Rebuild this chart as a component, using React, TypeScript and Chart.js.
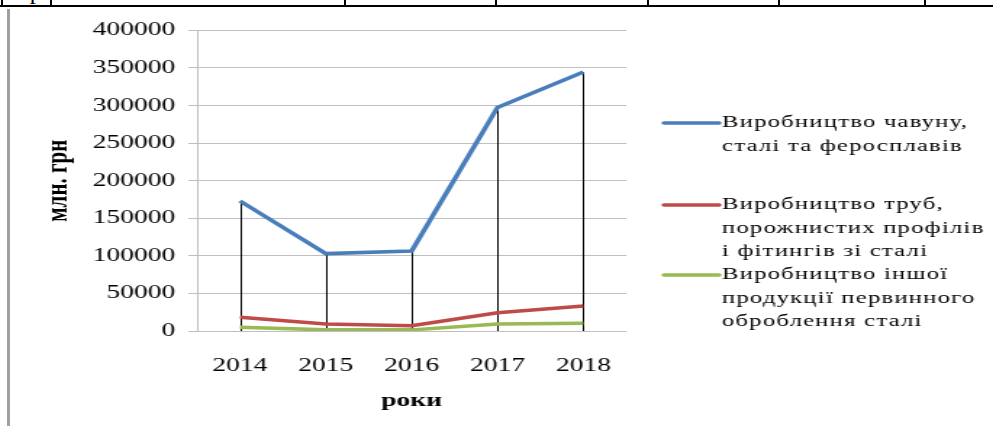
import React, { useEffect, useRef } from "react";
import { Chart, registerables } from "chart.js";

Chart.register(...registerables);

// ---- data ----
const years = ["2014", "2015", "2016", "2017", "2018"];
const pigIronSteel = [173000, 103000, 106500, 297500, 344500];
const pipes = [18200, 9300, 7000, 24300, 33200];
const otherSteel = [5000, 1500, 1500, 9300, 10200];
const seriesLabels = [
  ["Виробництво чавуну,", "сталі та феросплавів"],
  ["Виробництво труб,", "порожнистих профілів", "і фітингів зі сталі"],
  ["Виробництво іншої", "продукції первинного", "оброблення сталі"],
];
const seriesColors = ["#4A7EBB", "#BE4B48", "#98B954"];
const yMax = 400000;
const yStep = 50000;
const yTitle = "млн. грн";
const xTitle = "роки";
const tableFragment = "оброблення сталі";

const SX = 1.45; // horizontal stretch of the original picture
const CW = 678;
const CH = 416;
const FONT = "'Liberation Serif', 'Times New Roman', serif";

const dropLines = {
  id: "dropLines",
  beforeDatasetsDraw(chart: any) {
    const { ctx } = chart;
    const y = chart.scales.y;
    const x = chart.scales.x;
    const y0 = y.getPixelForValue(0);
    ctx.save();
    ctx.strokeStyle = "#000";
    ctx.lineWidth = 1;
    chart.data.labels.forEach((_: any, i: number) => {
      const vals = chart.data.datasets.map((d: any) => d.data[i]);
      const top = y.getPixelForValue(Math.max(...vals));
      const px = Math.round(x.getPixelForValue(i)) + 0.5;
      ctx.beginPath();
      ctx.moveTo(px, top);
      ctx.lineTo(px, y0);
      ctx.stroke();
    });
    ctx.restore();
  },
};

const textLegend = {
  id: "textLegend",
  afterDraw(chart: any) {
    const { ctx, chartArea } = chart;
    const lx0 = chartArea.right + 26;
    const lx1 = lx0 + 38;
    const tx = lx1 + 2;
    const starts = [113, 195, 265];
    const lh = 23.4;
    ctx.save();
    ctx.font = `17px ${FONT}`;
    try {
      (ctx as any).letterSpacing = "0.85px";
    } catch (e) {}
    ctx.fillStyle = "#000";
    ctx.textBaseline = "middle";
    ctx.textAlign = "left";
    chart.data.datasets.forEach((ds: any, i: number) => {
      const y0 = starts[i];
      ctx.strokeStyle = ds.borderColor;
      ctx.lineWidth = 3.5;
      ctx.lineCap = "round";
      ctx.beginPath();
      ctx.moveTo(lx0, y0);
      ctx.lineTo(lx1, y0);
      ctx.stroke();
      (ds.legendLines as string[]).forEach((t, j) => {
        ctx.fillText(t, tx, y0 + j * lh);
      });
    });
    ctx.restore();
  },
};

function LineChart() {
  const ref = useRef<HTMLCanvasElement | null>(null);
  useEffect(() => {
    if (!ref.current) return;
    const data = [pigIronSteel, pipes, otherSteel];
    const chart = new Chart(ref.current, {
      type: "line",
      data: {
        labels: years,
        datasets: data.map((d, i) => ({
          label: seriesLabels[i].join(" "),
          legendLines: seriesLabels[i],
          data: d,
          borderColor: seriesColors[i],
          backgroundColor: seriesColors[i],
          borderWidth: 3.5,
          pointRadius: 0,
          tension: 0,
          fill: false,
        })) as any,
      },
      options: {
        responsive: false,
        animation: false,
        devicePixelRatio: 1,
        layout: { padding: { top: 19, right: 253, bottom: 0, left: 0 } },
        plugins: {
          legend: { display: false },
          tooltip: { enabled: false },
          title: { display: false },
        },
        scales: {
          x: {
            offset: true,
            grid: { display: false },
            border: { display: false },
            ticks: {
              color: "#000",
              padding: 16,
              font: { family: FONT, size: 19 },
            },
            title: {
              display: true,
              text: xTitle,
              color: "#000",
              font: { family: FONT, size: 19, weight: "bold" },
              padding: { top: 0, bottom: 14 },
            },
            afterFit: (s: any) => {
              s.height = 95;
            },
          },
          y: {
            min: 0,
            max: yMax,
            grid: {
              color: "#BFBFBF",
              lineWidth: 1,
              drawTicks: true,
              tickLength: 6,
            },
            border: { display: true, color: "#BFBFBF", width: 1 },
            ticks: {
              stepSize: yStep,
              color: "#000",
              padding: 9,
              font: { family: FONT, size: 19 },
              callback: (v: any) => String(v),
            },
            title: {
              display: true,
              text: yTitle,
              color: "#000",
              font: { family: FONT, size: 21, weight: "bold" },
              padding: { top: 21, bottom: 0 },
            },
            afterFit: (s: any) => {
              s.width = 129;
            },
          },
        },
      },
      plugins: [dropLines, textLegend],
    });
    return () => chart.destroy();
  }, []);
  return (
    <div
      style={{
        position: "absolute",
        left: 10,
        top: 10,
        width: CW,
        height: CH,
        transform: `scaleX(${SX})`,
        transformOrigin: "0 0",
      }}
    >
      <canvas ref={ref} width={CW} height={CH} style={{ width: CW, height: CH, display: "block" }} />
    </div>
  );
}

const dividerXs = [1, 50, 344, 495, 647, 778, 924];

export default function App() {
  return (
    <div
      style={{
        position: "fixed",
        left: 0,
        top: 0,
        width: 993,
        height: 426,
        background: "#fff",
        overflow: "hidden",
      }}
    >
      <div
        style={{
          position: "absolute",
          left: 0,
          top: 0,
          height: 5,
          width: 200,
          overflow: "hidden",
        }}
      >
        <span
          style={{
            position: "absolute",
            left: 5,
            top: -15,
            fontFamily: FONT,
            fontSize: 17,
            whiteSpace: "nowrap",
            transform: `scaleX(${SX})`,
            transformOrigin: "0 0",
          }}
        >
          {tableFragment}
        </span>
      </div>
      <div style={{ position: "absolute", left: 0, top: 5, width: 993, height: 2, background: "#000" }} />
      {dividerXs.map((x) => (
        <div key={x} style={{ position: "absolute", left: x, top: 0, width: 2, height: 7, background: "#000" }} />
      ))}
      <div style={{ position: "absolute", left: 7, top: 9, width: 2.5, height: 417, background: "#A0A0A0" }} />
      <LineChart />
    </div>
  );
}
